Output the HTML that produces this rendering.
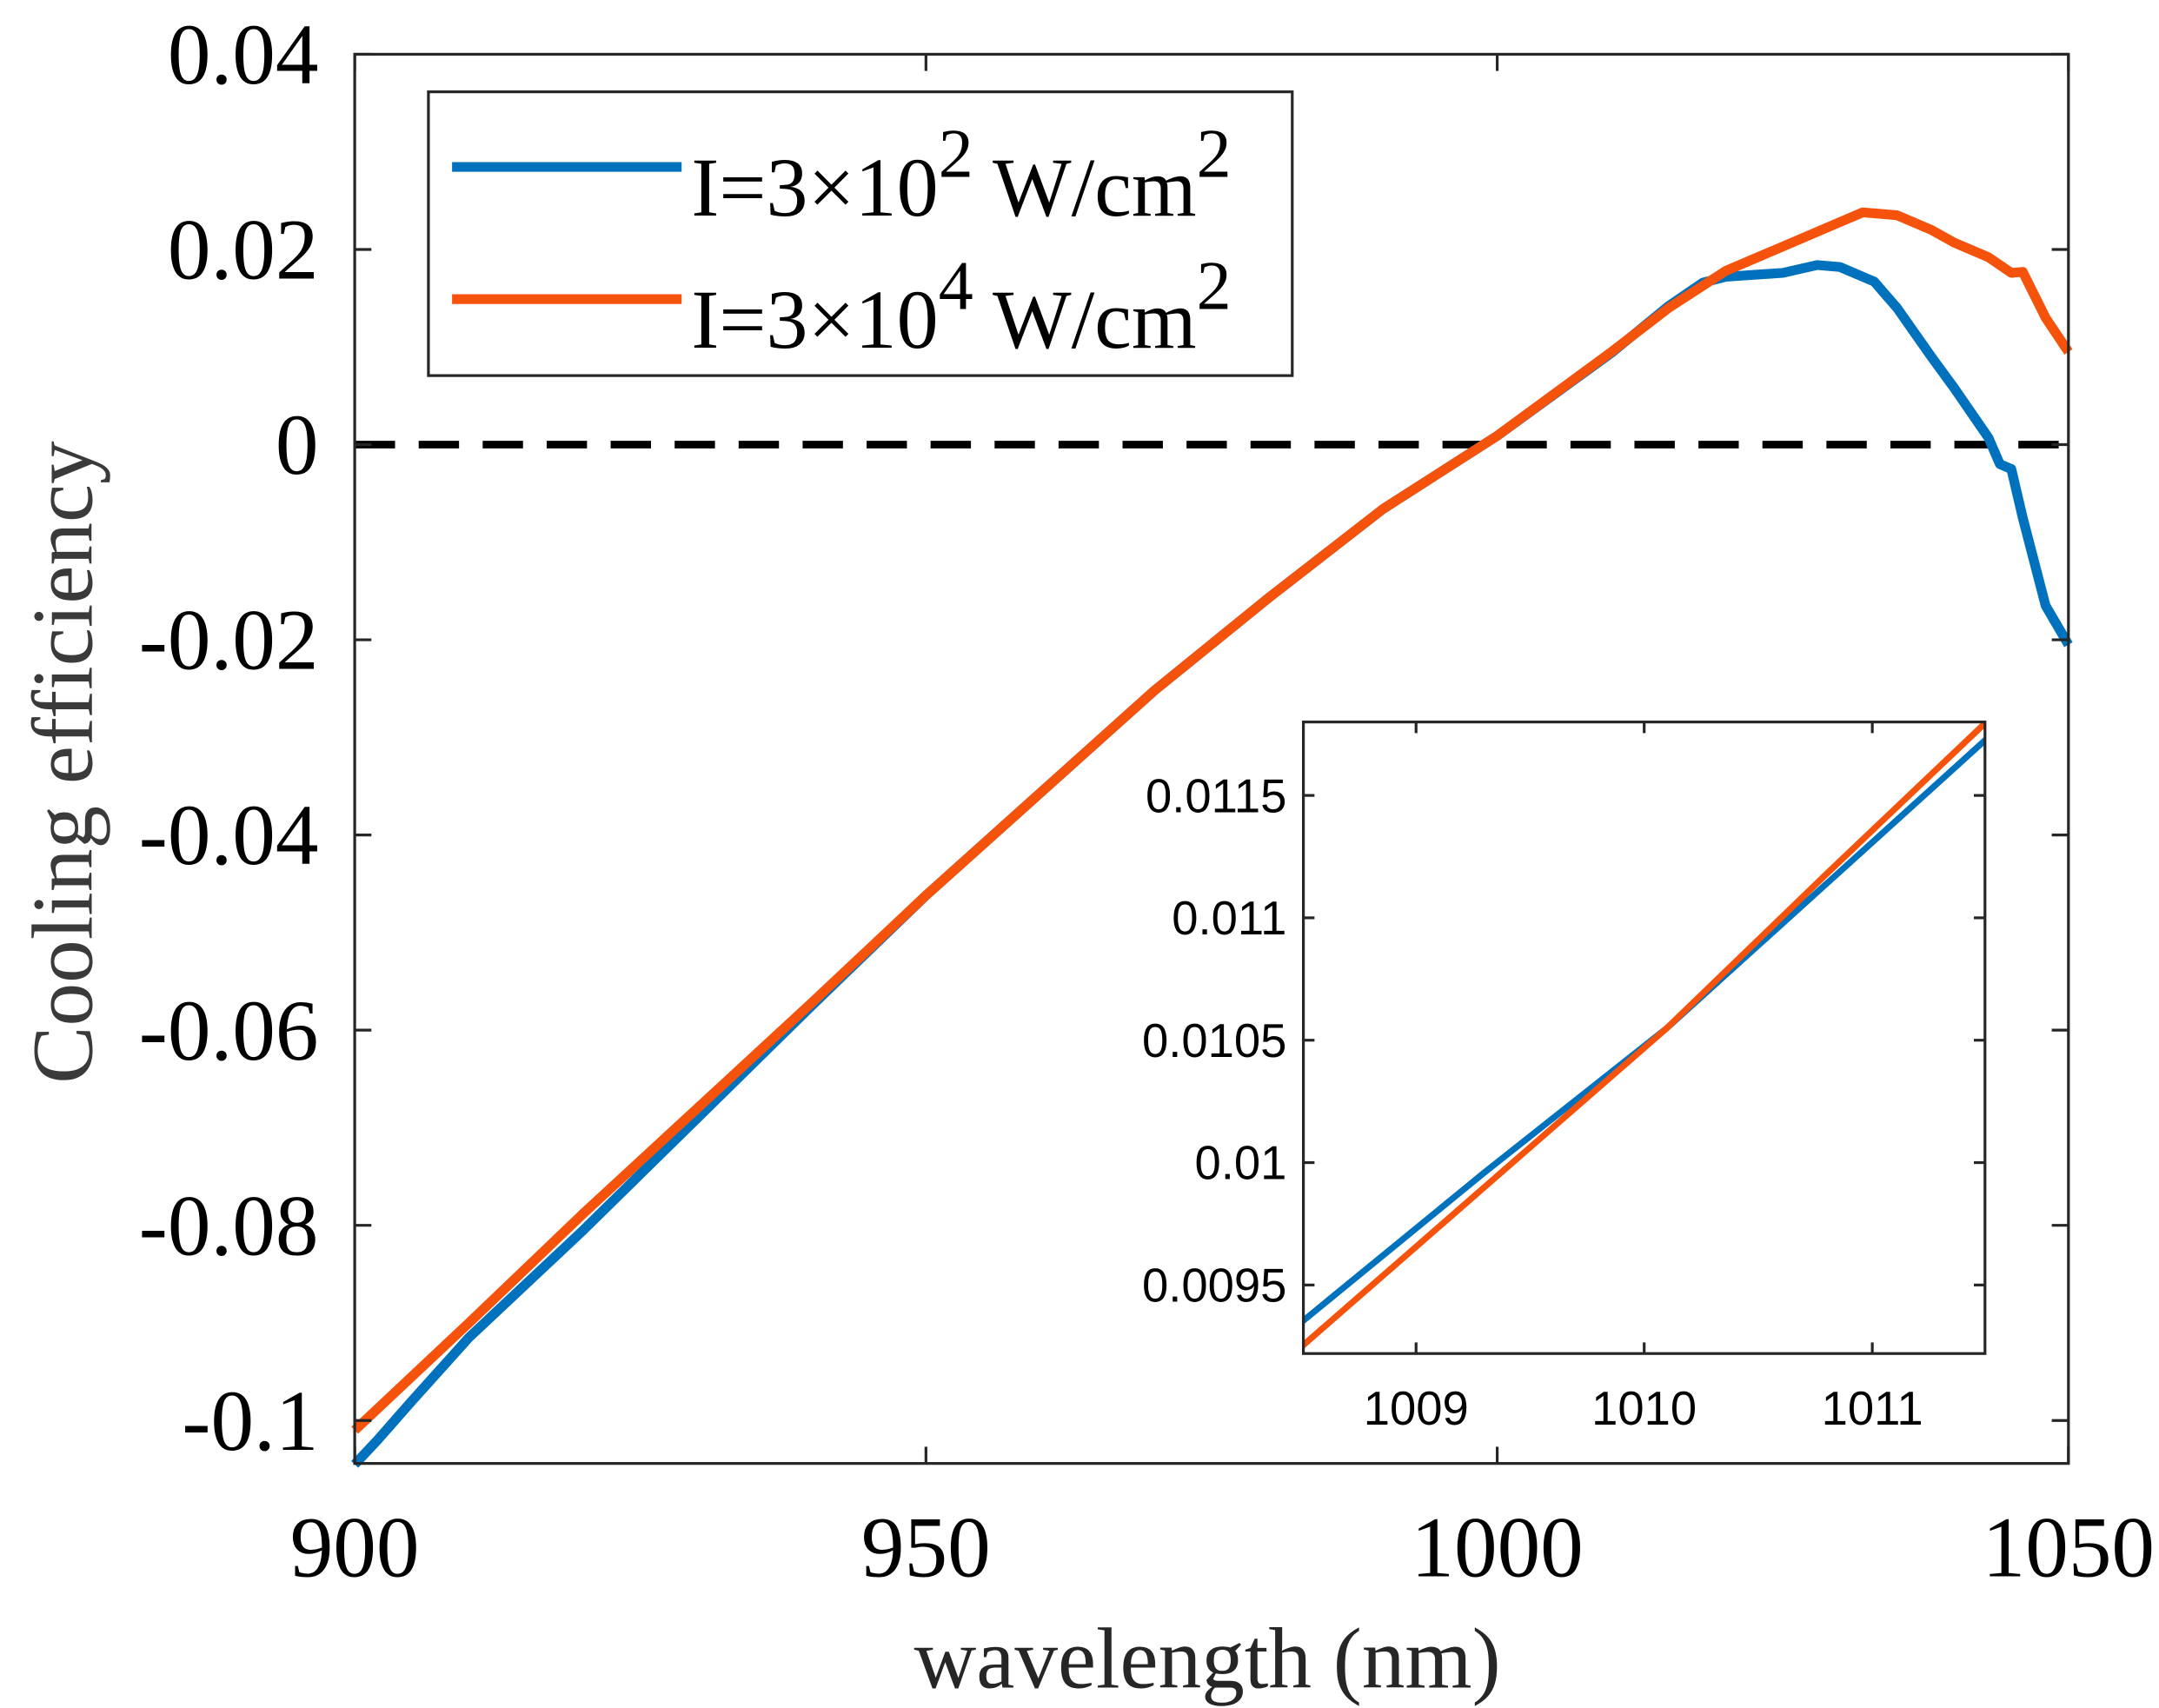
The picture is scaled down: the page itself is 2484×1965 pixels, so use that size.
<!DOCTYPE html>
<html><head><meta charset="utf-8"><style>
html,body{margin:0;padding:0;background:#fff;}
svg{display:block;}
</style></head><body>
<svg id="chart" width="2484" height="1965" viewBox="0 0 1552.1 1227.8" xmlns="http://www.w3.org/2000/svg" font-family="'Liberation Serif', serif">
<rect width="1552.1" height="1227.8" fill="#fff"/>
<g id="main"></g>
<g id="inset"></g>
</svg>
<script>
const xTicks=[900,950,1000,1050];
const yTicks=[0.04,0.02,0,-0.02,-0.04,-0.06,-0.08,-0.1];
const yTickLabels=["0.04","0.02","0","-0.02","-0.04","-0.06","-0.08","-0.1"];
const blueX=[900,902,905,910,920,930,940,950,960,970,980,990,1000,1010,1015,1018,1020,1025,1028,1030,1033,1035,1038,1040,1043,1044,1045,1046,1048,1050];
const blueY=[-0.1045,-0.102,-0.098,-0.0915,-0.0805,-0.069,-0.0575,-0.0462,-0.0357,-0.0252,-0.0157,-0.0066,0.0009,0.0094,0.0142,0.0166,0.0172,0.0176,0.0184,0.0182,0.0167,0.014,0.009,0.0058,0.0007,-0.002,-0.0025,-0.0075,-0.0165,-0.0205];
const orangeX=[900,905,910,920,930,940,950,960,970,980,990,1000,1010,1015,1020,1025,1030,1032,1035,1038,1040,1043,1045,1046,1048,1050];
const orangeY=[-0.101,-0.0955,-0.090,-0.0788,-0.068,-0.0572,-0.0462,-0.0357,-0.0252,-0.0157,-0.0066,0.0009,0.0095,0.014,0.0178,0.0203,0.0228,0.0238,0.0235,0.022,0.0207,0.0192,0.0176,0.0177,0.013,0.0095];
const insetXTicks=[1009,1010,1011];
const insetYTicks=[0.0095,0.01,0.0105,0.011,0.0115];
const insetYLabels=["0.0095","0.01","0.0105","0.011","0.0115"];
const insetBlueX=[1008.5,1009.3,1010.1,1010.8,1011.5];
const insetBlueY=[0.00935,0.00996,0.01055,0.01114,0.01173];
const insetOrangeX=[1008.5,1009.3,1010.1,1010.8,1011.5];
const insetOrangeY=[0.00925,0.0099,0.01055,0.01118,0.0118];

const NS="http://www.w3.org/2000/svg";
function mk(parent,tag,attrs){const e=document.createElementNS(NS,tag);for(const k in attrs)e.setAttribute(k,attrs[k]);parent.appendChild(e);return e;}
const M={l:255,r:1487,t:39,b:1052,x0:900,x1:1050,y0:-0.1044,y1:0.04};
const sx=v=>M.l+(v-M.x0)/(M.x1-M.x0)*(M.r-M.l);
const sy=v=>M.b-(v-M.y0)/(M.y1-M.y0)*(M.b-M.t);
const g=document.getElementById('main');

const z=mk(g,'line',{x1:M.l,x2:M.r,y1:sy(0),y2:sy(0),stroke:'#000','stroke-width':5.5,'stroke-dasharray':'29 17'});



function series(parent,xs,ys,fx,fy,col,w,name){
  const p=mk(parent,'path',{d:xs.map((x,i)=>(i?'L':'M')+fx(x).toFixed(2)+' '+fy(ys[i]).toFixed(2)).join(' '),fill:'none',stroke:col,'stroke-width':w,'stroke-linejoin':'round'});
  
  
}
series(g,blueX,blueY,sx,sy,'#0072BD',7,'series-blue-3e2');
series(g,orangeX,orangeY,sx,sy,'#F5520C',7,'series-orange-3e4');

const box=mk(g,'rect',{x:M.l,y:M.t,width:M.r-M.l,height:M.b-M.t,fill:'none',stroke:'#262626','stroke-width':2});


xTicks.forEach(v=>{
  const x=sx(v);
  mk(g,'line',{x1:x,x2:x,y1:M.b,y2:M.b-12,stroke:'#262626','stroke-width':2});
  mk(g,'line',{x1:x,x2:x,y1:M.t,y2:M.t+12,stroke:'#262626','stroke-width':2});
  const t=mk(g,'text',{x:x,y:1133,'font-size':62,'text-anchor':'middle',fill:'#000'});
  t.textContent=v;
  
  
});
yTicks.forEach((v,i)=>{
  const y=sy(v);
  mk(g,'line',{x1:M.l,x2:M.l+12,y1:y,y2:y,stroke:'#262626','stroke-width':2});
  mk(g,'line',{x1:M.r,x2:M.r-12,y1:y,y2:y,stroke:'#262626','stroke-width':2});
  const t=mk(g,'text',{x:229,y:y+21,'font-size':62,'text-anchor':'end',fill:'#000'});
  t.textContent=yTickLabels[i];
  
  
});
const xl=mk(g,'text',{x:868,y:1213,'font-size':62,'text-anchor':'middle',fill:'#262626'});
xl.textContent='wavelength (nm)';


const yl=mk(g,'text',{x:0,y:0,'font-size':62,'text-anchor':'middle',fill:'#3a3a3a',transform:'translate(66,548) rotate(-90)'});
yl.textContent='Cooling efficiency';



const lg=mk(g,'g',{});


mk(lg,'rect',{x:308,y:66,width:621,height:204,fill:'#fff',stroke:'#262626','stroke-width':2});
[['#0072BD','2',120,'legend-entry-3e2'],['#F5520C','4',215,'legend-entry-3e4']].forEach(([c,e,y,n])=>{
  const eg=mk(lg,'g',{});
  
  
  mk(eg,'line',{x1:325,x2:490,y1:y,y2:y,stroke:c,'stroke-width':7});
  const t=mk(eg,'text',{x:497,y:y+35,'font-size':60,fill:'#000'});
  t.innerHTML='I=3×10<tspan dy="-28" font-size="50">'+e+'</tspan><tspan dy="28">  W/cm</tspan><tspan dy="-28" font-size="50">2</tspan>';
});

const I={l:937,r:1427,t:519,b:973,x0:1008.506,x1:1011.494,y0:0.00922,y1:0.0118};
const ix=v=>I.l+(v-I.x0)/(I.x1-I.x0)*(I.r-I.l);
const iy=v=>I.b-(v-I.y0)/(I.y1-I.y0)*(I.b-I.t);
const ig=document.getElementById('inset');


mk(ig,'rect',{x:I.l,y:I.t,width:I.r-I.l,height:I.b-I.t,fill:'#fff'});
const cp=mk(ig,'clipPath',{id:'ic'});mk(cp,'rect',{x:I.l,y:I.t,width:I.r-I.l,height:I.b-I.t});
const sg=mk(ig,'g',{'clip-path':'url(#ic)'});
series(sg,insetBlueX,insetBlueY,ix,iy,'#0072BD',4.5,'inset-series-blue');
series(sg,insetOrangeX,insetOrangeY,ix,iy,'#F5520C',4.5,'inset-series-orange');
mk(ig,'rect',{x:I.l,y:I.t,width:I.r-I.l,height:I.b-I.t,fill:'none',stroke:'#262626','stroke-width':2});
insetXTicks.forEach(v=>{
  const x=ix(v);
  mk(ig,'line',{x1:x,x2:x,y1:I.b,y2:I.b-8,stroke:'#262626','stroke-width':2});
  mk(ig,'line',{x1:x,x2:x,y1:I.t,y2:I.t+8,stroke:'#262626','stroke-width':2});
  const t=mk(ig,'text',{x:x,y:1024,'font-size':34,'text-anchor':'middle',fill:'#000','font-family':"'Liberation Sans', sans-serif"});
  t.textContent=v;
  
  
});
insetYTicks.forEach((v,i)=>{
  const y=iy(v);
  mk(ig,'line',{x1:I.l,x2:I.l+8,y1:y,y2:y,stroke:'#262626','stroke-width':2});
  mk(ig,'line',{x1:I.r,x2:I.r-8,y1:y,y2:y,stroke:'#262626','stroke-width':2});
  const t=mk(ig,'text',{x:925,y:y+12,'font-size':34,'text-anchor':'end',fill:'#000','font-family':"'Liberation Sans', sans-serif"});
  t.textContent=insetYLabels[i];
  
  
});
</script>
</body></html>
